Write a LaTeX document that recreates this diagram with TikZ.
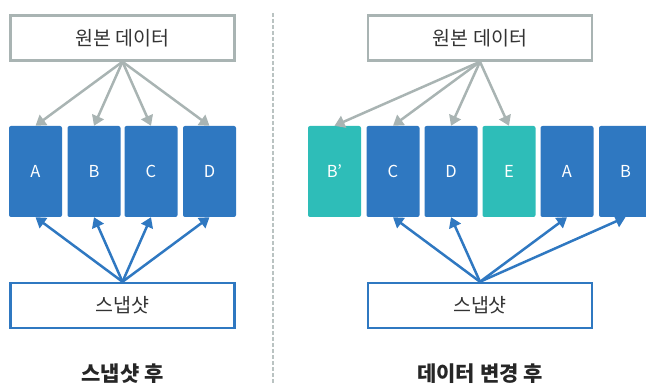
\documentclass[tikz,border=0pt]{standalone}
\usepackage{fontspec}
\setmainfont{Noto Sans CJK KR}
\usetikzlibrary{arrows.meta}
\definecolor{blockblue}{HTML}{2F78C1}
\definecolor{blockteal}{HTML}{2EBDB8}
\definecolor{framegray}{HTML}{A9B4B3}
\tikzset{
	block/.style={fill=blockblue, rounded corners=2pt, minimum width=53pt, minimum height=91pt, inner sep=0pt, text=white, font=\fontsize{16.5}{16.5}\selectfont},
	newblock/.style={block, fill=blockteal},
	srcbox/.style={draw=framegray, line width=2.5pt, fill=white, minimum width=224pt, minimum height=45pt, inner sep=0pt, font=\fontsize{19.5}{19.5}\selectfont, text=black!80},
	snapbox/.style={srcbox, draw=blockblue},
	grayarrow/.style={draw=framegray, line width=2.5pt, -{Triangle[width=12.5pt,length=10pt]}},
	bluearrow/.style={grayarrow, draw=blockblue},
	paneltitle/.style={font=\fontsize{21}{21}\selectfont\bfseries, text=black!85}
}

\begin{document}
\begin{tikzpicture}[x=1pt,y=-1pt]
			%%%%% START %%%%%
			\useasboundingbox (0,0) rectangle (646,385);
			\clip (0,0) rectangle (646,385);
			
			% divider
			\draw[framegray!80, line width=1.2pt, dash pattern=on 4pt off 2pt] (273,13) -- (273,385);
			
			% left: after snapshot
			\node[srcbox] (srcL) at (122.5,38) {원본 데이터};
			\node[block] (lA) at (35.5,171.5) {A};
			\node[block] (lB) at (94,171.5) {B};
			\node[block] (lC) at (151,171.5) {C};
			\node[block] (lD) at (209.5,171.5) {D};
			\node[snapbox] (snapL) at (122.5,305.5) {스냅샷};
			
			\draw[grayarrow] (srcL.south) -- (lA.north);
			\draw[grayarrow] (srcL.south) -- (lB.north);
			\draw[grayarrow] (srcL.south) -- (lC.north);
			\draw[grayarrow] (srcL.south) -- (lD.north);
			
			\draw[bluearrow] (snapL.north) -- (lA.south);
			\draw[bluearrow] (snapL.north) -- (lB.south);
			\draw[bluearrow] (snapL.north) -- (lC.south);
			\draw[bluearrow] (snapL.north) -- (lD.south);
			
			\node[paneltitle] (titleL) at (122.5,374) {스냅샷 후};
			
			% right: after data change
			\node[srcbox] (srcR) at (480,38) {원본 데이터};
			\node[newblock] (rBp) at (334.5,171.5) {B’};
			\node[block] (rC) at (393,171.5) {C};
			\node[block] (rD) at (451,171.5) {D};
			\node[newblock] (rE) at (509,171.5) {E};
			\node[block] (rA) at (567,171.5) {A};
			\node[block] (rB) at (625.5,171.5) {B};
			\node[snapbox] (snapR) at (480,305.5) {스냅샷};
			
			\draw[grayarrow] (srcR.south) -- (rBp.north);
			\draw[grayarrow] (srcR.south) -- (rC.north);
			\draw[grayarrow] (srcR.south) -- (rD.north);
			\draw[grayarrow] (srcR.south) -- (rE.north);
			
			\draw[bluearrow] (snapR.north) -- (rC.south);
			\draw[bluearrow] (snapR.north) -- (rD.south);
			\draw[bluearrow] (snapR.north) -- (rA.south);
			\draw[bluearrow] (snapR.north) -- (rB.south);
			
			\node[paneltitle] (titleR) at (480,374) {데이터 변경 후};
			%%%%% END %%%%%
\end{tikzpicture}
\end{document}
